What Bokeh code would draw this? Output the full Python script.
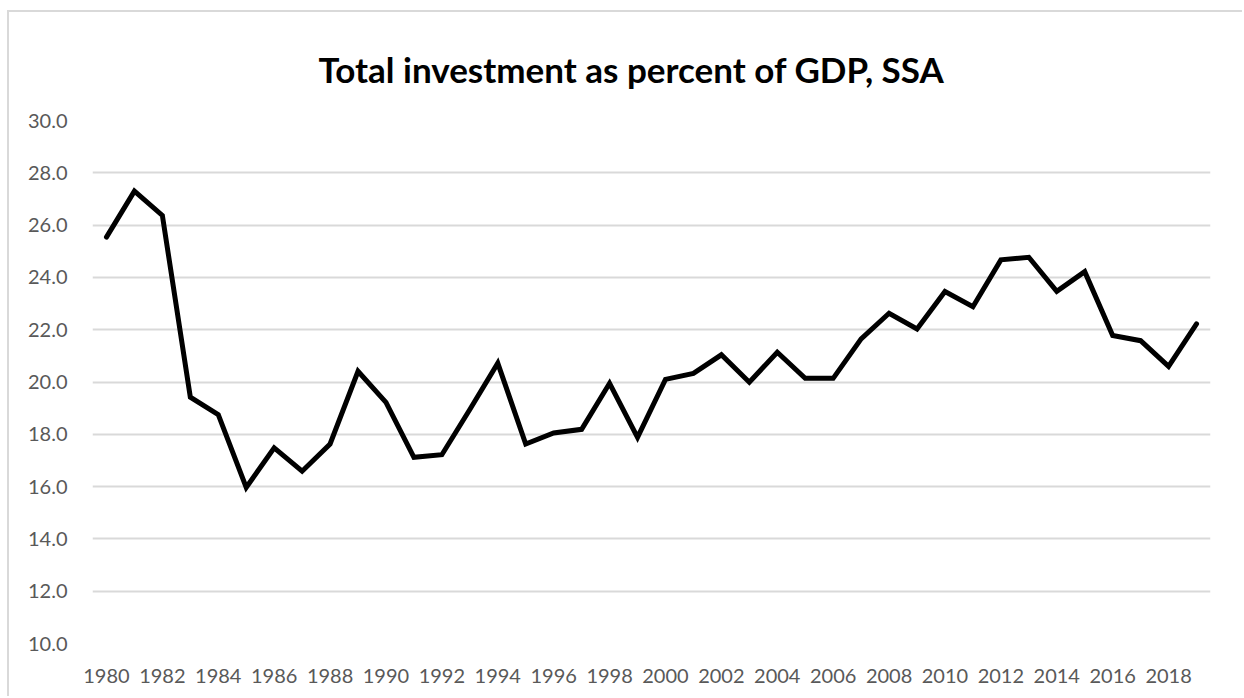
from bokeh.plotting import figure
from bokeh.models import FixedTicker, NumeralTickFormatter, ColumnDataSource
from bokeh.embed import file_html
from bokeh.resources import INLINE

years = list(range(1980, 2020))
investment = [25.54, 27.30, 26.37, 19.42, 18.75, 15.97, 17.48, 16.59, 17.63, 20.41,
              19.22, 17.12, 17.22, 18.95, 20.72, 17.63, 18.05, 18.19, 19.95, 17.88,
              20.10, 20.33, 21.04, 19.99, 21.14, 20.14, 20.14, 21.65, 22.63, 22.03,
              23.46, 22.88, 24.67, 24.77, 23.47, 24.22, 21.78, 21.58, 20.60, 22.22]
x_ticks = list(range(1980, 2019, 2))
y_ticks = [10, 12, 14, 16, 18, 20, 22, 24, 26, 28, 30]
title_text = "Total investment as percent of GDP, SSA"

src = ColumnDataSource(dict(year=years, value=investment))

p = figure(width=1235, height=686, output_backend="svg", toolbar_location=None,
           x_range=(1979.5, 2019.5), y_range=(10, 30),
           min_border_left=83, min_border_right=34, min_border_top=108, min_border_bottom=55)
p.styles = {"margin-left": "7px", "margin-top": "10px",
            "border-left": "2px solid #d9d9d9", "border-top": "2px solid #d9d9d9"}

p.title.text = title_text
p.title.align = "left"
p.title.text_font = "Lato"
p.title.text_font_style = "bold"
p.title.text_font_size = "35px"
p.title.text_color = "#000000"
p.title.standoff = 62
p.title.offset = 226

p.outline_line_color = None
p.background_fill_color = "white"
p.border_fill_color = "white"

p.line("year", "value", source=src, line_color="black", line_width=5,
       line_join="miter", line_cap="round")

p.xaxis.ticker = FixedTicker(ticks=x_ticks)
p.yaxis.ticker = FixedTicker(ticks=y_ticks)
p.yaxis.formatter = NumeralTickFormatter(format="0.0")
for ax in (p.xaxis, p.yaxis):
    ax.axis_line_color = None
    ax.major_tick_line_color = None
    ax.minor_tick_line_color = None
    ax.major_label_text_font = "Lato"
    ax.major_label_text_font_size = "20px"
    ax.major_label_text_color = "#595959"
p.yaxis.major_label_standoff = 19
p.xaxis.major_label_standoff = 19

p.xgrid.grid_line_color = None
p.ygrid.grid_line_color = "#d9d9d9"
p.ygrid.grid_line_width = 2

open("out.html", "w").write(file_html(p, INLINE))
